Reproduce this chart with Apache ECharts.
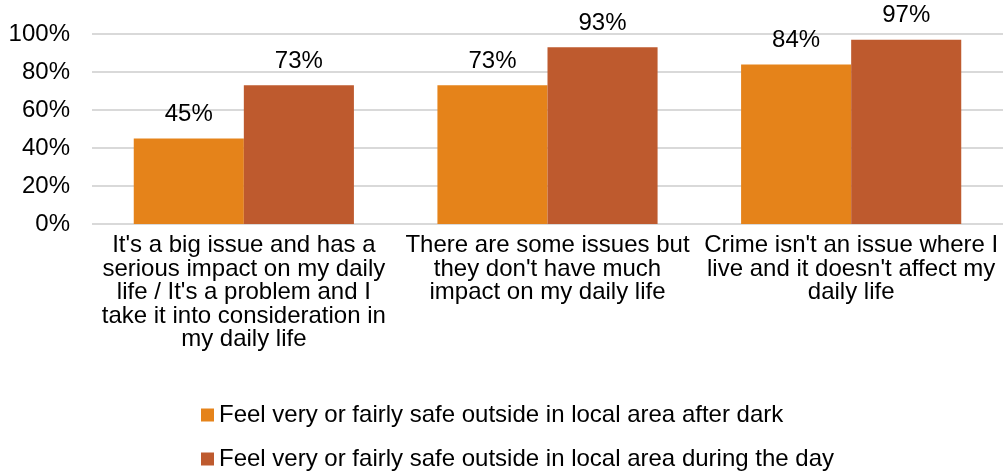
<!DOCTYPE html>
<html><head><meta charset="utf-8">
<script src="https://cdn.jsdelivr.net/npm/echarts@6/dist/echarts.min.js"></script>
<style>html,body{margin:0;padding:0;background:#fff}#c{width:1003px;height:475px}</style>
</head><body><div id="c"></div>
<script>
const categories = [
  "It's a big issue and has a\nserious impact on my daily\nlife / It's a problem and I\ntake it into consideration in\nmy daily life",
  "There are some issues but\nthey don't have much\nimpact on my daily life",
  "Crime isn't an issue where I\nlive and it doesn't affect my\ndaily life"
];
const seriesNames = [
  "Feel very or fairly safe outside in local area after dark",
  "Feel very or fairly safe outside in local area during the day"
];
const afterDark = [45, 73, 84];
const duringDay = [73, 93, 97];
const yTicks = [0, 20, 40, 60, 80, 100];

const font = 'Liberation Sans, Arial, sans-serif';
const chart = echarts.init(document.getElementById('c'));
chart.setOption({
  animation: false,
  textStyle: {fontFamily: font},
  grid: {left: 92, right: 0, top: 34, bottom: 251, containLabel: false},
  legend: {
    orient: 'vertical', left: 201, top: 403, width: 800, height: 120, itemGap: 20, padding: 0,
    itemWidth: 13, itemHeight: 13, icon: 'rect',
    textStyle: {fontSize: 24, color: '#000', fontFamily: font, padding: 0},
    data: seriesNames
  },
  xAxis: {
    type: 'category', data: categories,
    axisLine: {show: false}, axisTick: {show: false},
    axisLabel: {fontSize: 24, color: '#000', lineHeight: 23.5, margin: 10, interval: 0, fontFamily: font}
  },
  yAxis: {
    type: 'value', min: 0, max: 100, interval: 20,
    axisLabel: {formatter: v => yTicks.includes(v) ? v + '%' : '', fontSize: 24, color: '#000', margin: 22, fontFamily: font},
    splitLine: {lineStyle: {color: '#D9D9D9', width: 2}},
    axisLine: {show: false}, axisTick: {show: false}
  },
  series: [
    {name: seriesNames[0], type: 'bar', data: afterDark, barGap: '0%', barCategoryGap: '27.5%',
     itemStyle: {color: '#E5831A'},
     label: {show: true, position: 'top', formatter: '{c}%', fontSize: 24, color: '#000', distance: 12, fontFamily: font}},
    {name: seriesNames[1], type: 'bar', data: duringDay, barGap: '0%', barCategoryGap: '27.5%',
     itemStyle: {color: '#BE5A2E'},
     label: {show: true, position: 'top', formatter: '{c}%', fontSize: 24, color: '#000', distance: 12, fontFamily: font}}
  ]
});
</script></body></html>
